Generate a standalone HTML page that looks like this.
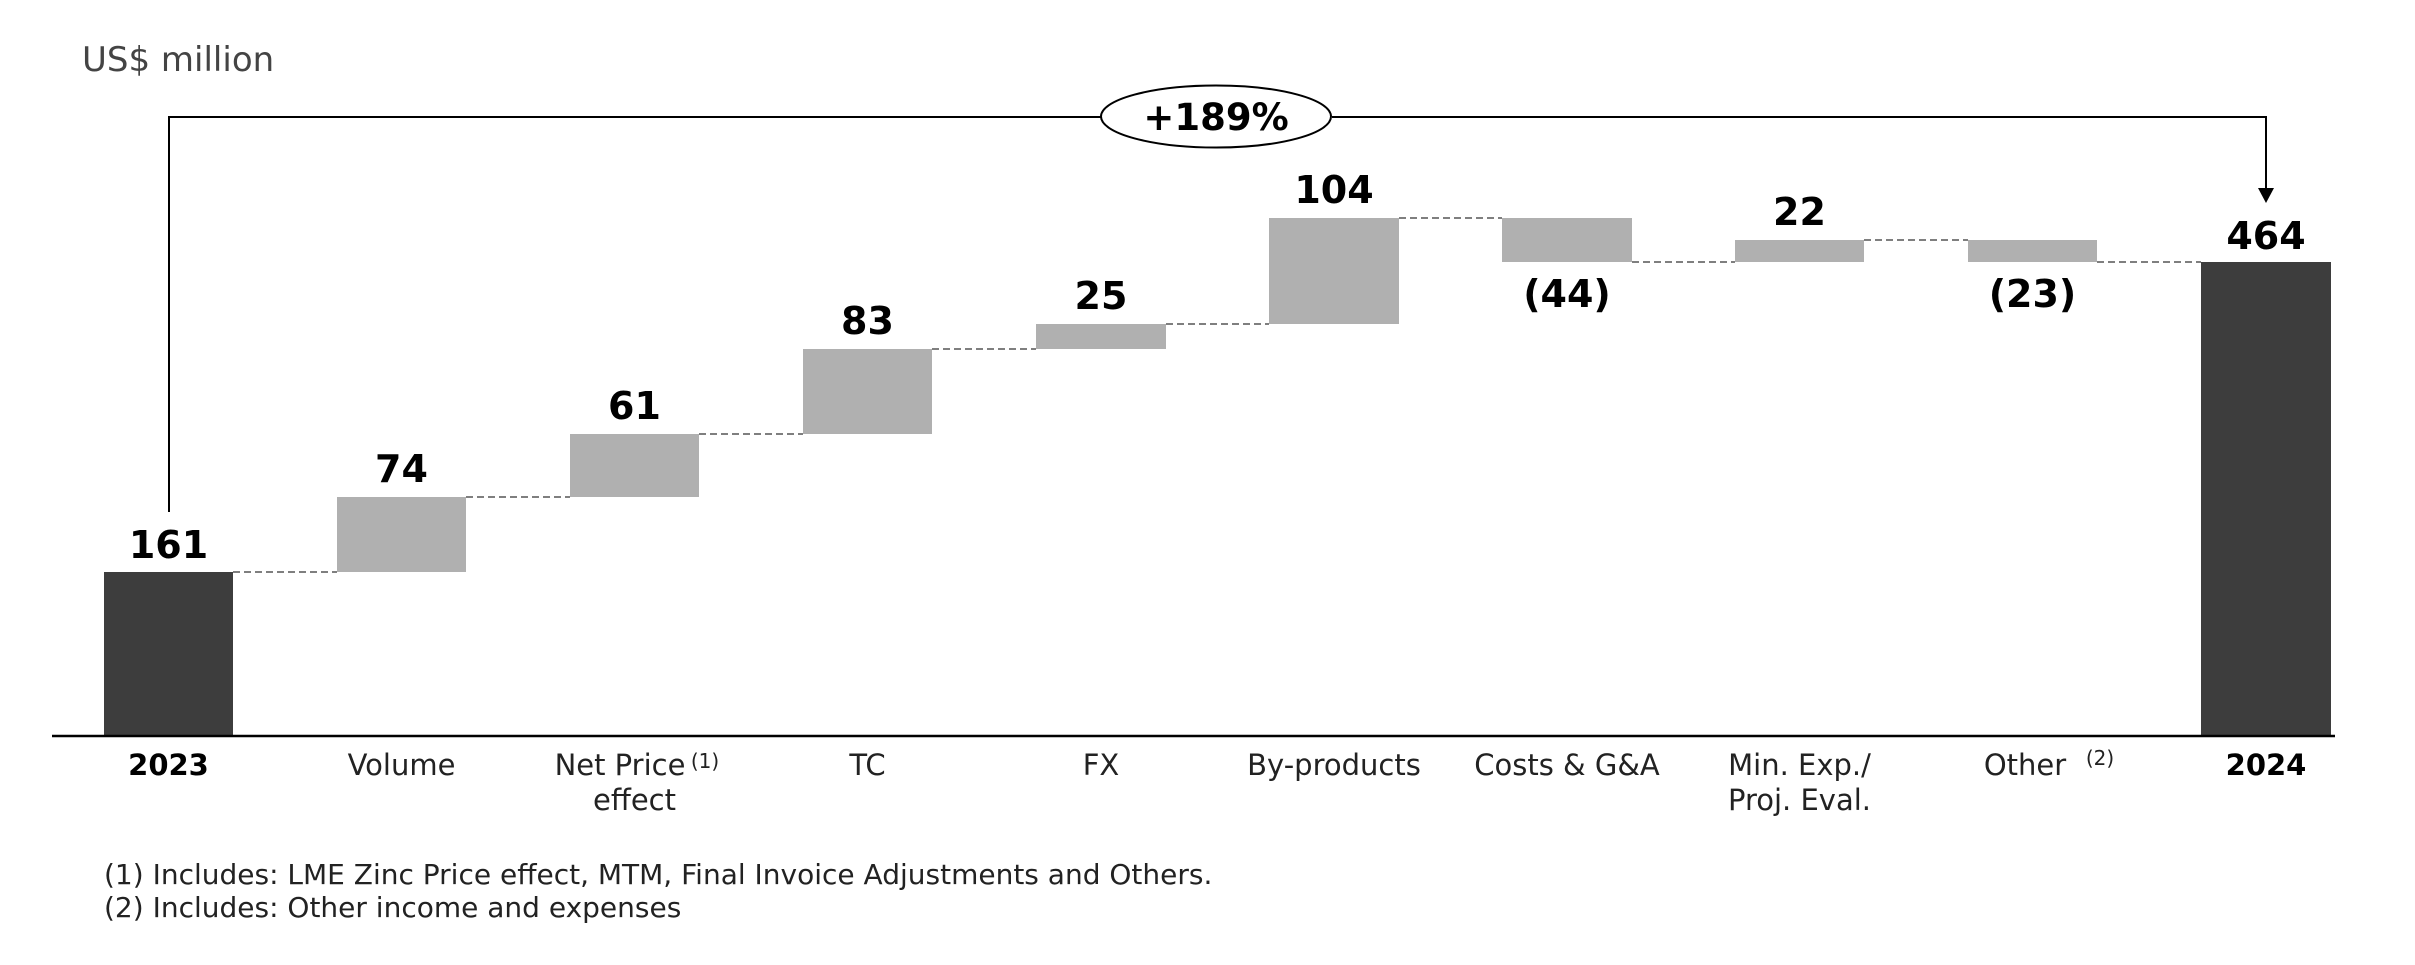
<!DOCTYPE html>
<html><head><meta charset="utf-8"><style>
html,body{margin:0;padding:0;background:#fff}
svg{display:block}
text{font-family:"DejaVu Sans","Liberation Sans",sans-serif}
.v{font-size:38px;font-weight:bold;fill:#000;text-anchor:middle}
.c{font-size:29px;fill:#222;text-anchor:middle}
.cb{font-size:29px;font-weight:bold;fill:#000;text-anchor:middle}
.f{font-size:28px;fill:#222}
.d{stroke:#555;stroke-width:1.5;stroke-dasharray:7,4}
</style></head><body>
<svg width="2415" height="965" viewBox="0 0 2415 965">
<text x="82" y="71" font-size="34" fill="#444">US$ million</text>
<polyline points="169,512 169,117 1101,117" fill="none" stroke="#000" stroke-width="2"/>
<polyline points="1332,117 2266,117 2266,192" fill="none" stroke="#000" stroke-width="2"/>
<polygon points="2258,188 2274,188 2266,203" fill="#000"/>
<ellipse cx="1216" cy="116.5" rx="115" ry="31" fill="#fff" stroke="#000" stroke-width="2"/>
<text x="1216" y="130" class="v" style="font-size:37px">+189%</text>
<rect x="104" y="572" width="129" height="164" fill="#3d3d3d"/>
<rect x="337" y="497" width="129" height="75" fill="#b0b0b0"/>
<rect x="570" y="434" width="129" height="63" fill="#b0b0b0"/>
<rect x="803" y="349" width="129" height="85" fill="#b0b0b0"/>
<rect x="1036" y="324" width="130" height="25" fill="#b0b0b0"/>
<rect x="1269" y="218" width="130" height="106" fill="#b0b0b0"/>
<rect x="1502" y="218" width="130" height="44" fill="#b0b0b0"/>
<rect x="1735" y="240" width="129" height="22" fill="#b0b0b0"/>
<rect x="1968" y="240" width="129" height="22" fill="#b0b0b0"/>
<rect x="2201" y="262" width="130" height="474" fill="#3d3d3d"/>
<line class="d" x1="233" y1="572" x2="337" y2="572"/>
<line class="d" x1="466" y1="497" x2="570" y2="497"/>
<line class="d" x1="699" y1="434" x2="803" y2="434"/>
<line class="d" x1="932" y1="349" x2="1036" y2="349"/>
<line class="d" x1="1166" y1="324" x2="1269" y2="324"/>
<line class="d" x1="1399" y1="218" x2="1502" y2="218"/>
<line class="d" x1="1632" y1="262" x2="1735" y2="262"/>
<line class="d" x1="1864" y1="240" x2="1968" y2="240"/>
<line class="d" x1="2097" y1="262" x2="2201" y2="262"/>
<line x1="52" y1="736" x2="2335" y2="736" stroke="#000" stroke-width="2.5"/>
<text class="v" x="168.5" y="558">161</text>
<text class="v" x="401.5" y="482">74</text>
<text class="v" x="634.5" y="419">61</text>
<text class="v" x="867.5" y="334">83</text>
<text class="v" x="1101" y="309">25</text>
<text class="v" x="1334" y="203">104</text>
<text class="v" x="1567" y="307">(44)</text>
<text class="v" x="1799.5" y="225">22</text>
<text class="v" x="2032.5" y="307">(23)</text>
<text class="v" x="2266" y="249">464</text>
<text class="cb" x="168.5" y="775">2023</text>
<text class="c" x="401.5" y="775">Volume</text>
<text class="c" x="620" y="775">Net Price</text>
<text x="705" y="768" font-size="20" fill="#222" text-anchor="middle">(1)</text>
<text class="c" x="634.5" y="810">effect</text>
<text class="c" x="867.5" y="775">TC</text>
<text class="c" x="1101" y="775">FX</text>
<text class="c" x="1334" y="775">By-products</text>
<text class="c" x="1567" y="775">Costs &amp; G&amp;A</text>
<text class="c" x="1799.5" y="775">Min. Exp./</text>
<text class="c" x="1799.5" y="810">Proj. Eval.</text>
<text class="c" x="2025" y="775">Other</text>
<text x="2100" y="765" font-size="20" fill="#222" text-anchor="middle">(2)</text>
<text class="cb" x="2266" y="775">2024</text>
<text class="f" x="104" y="884">(1) Includes: LME Zinc Price effect, MTM, Final Invoice Adjustments and Others.</text>
<text class="f" x="104" y="917">(2) Includes: Other income and expenses</text>
</svg>
</body></html>
